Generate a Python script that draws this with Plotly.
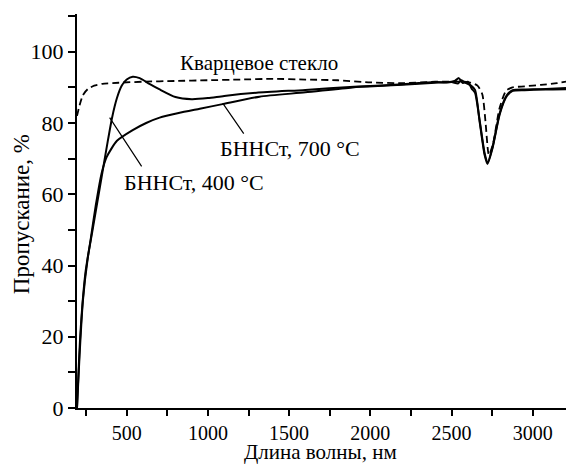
import plotly.graph_objects as go

# Data
wl_400 = [194, 210, 230, 260, 290, 320, 350, 380, 410, 440, 470, 500, 537, 580, 640, 700, 800, 900,
          1000, 1100, 1300, 1600, 1900, 2100, 2300, 2400, 2470, 2520, 2545, 2570, 2600, 2625, 2645,
          2673, 2704, 2722, 2753, 2797, 2840, 2876, 2950, 3050, 3205]
t_400 = [0, 15, 30, 42, 50, 58, 66, 74, 81.5, 87, 90.5, 92.2, 93, 92.6, 91, 89.5, 87.3, 86.7,
         87, 87.6, 88.5, 89.3, 90.2, 90.6, 91.2, 91.5, 91.4, 91.8, 92.6, 91.2, 91.6, 89.6, 88.5,
         80.8, 71.5, 68.8, 73.3, 82.8, 87.8, 89.2, 89.4, 89.5, 89.8]

wl_700 = [194, 215, 246, 277, 310, 346, 377, 440, 537, 620, 703, 820, 950, 1090, 1318, 1600, 1890,
          2100, 2300, 2400, 2500, 2540, 2560, 2590, 2620, 2645, 2673, 2704, 2722, 2753, 2797, 2840,
          2876, 2950, 3050, 3205]
t_700 = [0, 21, 38, 47, 57, 66, 70.5, 75, 78, 80, 81.5, 82.8, 84, 85.3, 87.4, 88.6, 90,
         90.5, 91, 91.3, 91.5, 91.1, 92, 91.2, 90.5, 89.3, 80.5, 71, 68.5, 73, 82.5, 87.5,
         89, 89.2, 89.4, 89.5]

wl_quartz = [194, 210, 230, 260, 300, 350, 450, 600, 800, 1000, 1200, 1400, 1600, 1800, 2000, 2200,
             2400, 2500, 2600, 2660, 2690, 2710, 2730, 2755, 2795, 2835, 2875, 2950, 3050, 3150, 3205]
t_quartz = [82, 85, 87.8, 89.5, 90.5, 91, 91.3, 91.6, 91.8, 92, 92.2, 92.4, 92.2, 92, 91.4, 91.2,
            91.6, 91.6, 91.5, 90.5, 88, 80, 71, 74, 84, 89, 90, 90.3, 90.7, 91.2, 91.6]

x_ticks = [500, 1000, 1500, 2000, 2500, 3000]
y_ticks = [0, 20, 40, 60, 80, 100]
x_title = "Длина волны, нм"
y_title = "Пропускание, %"

FONT = "Liberation Serif"
LBL = 22

fig = go.Figure()
fig.add_trace(go.Scatter(x=wl_quartz, y=t_quartz, mode="lines",
                         line=dict(color="black", width=1.8, dash="7px,4px", shape="spline", smoothing=0.6)))
fig.add_trace(go.Scatter(x=wl_700, y=t_700, mode="lines",
                         line=dict(color="black", width=2, shape="spline", smoothing=0.6)))
fig.add_trace(go.Scatter(x=wl_400, y=t_400, mode="lines",
                         line=dict(color="black", width=2, shape="spline", smoothing=0.6)))

# labels
fig.add_annotation(x=814, y=96.8, text="Кварцевое стекло", showarrow=False, xanchor="left",
                   yanchor="middle", font=dict(family=FONT, size=21, color="black"))
fig.add_annotation(x=469, y=63.2, text="БННСт, 400 °C", showarrow=False, xanchor="left",
                   yanchor="middle", font=dict(family=FONT, size=LBL, color="black"))
fig.add_annotation(x=1060, y=72.8, text="БННСт, 700 °C", showarrow=False, xanchor="left",
                   yanchor="middle", font=dict(family=FONT, size=LBL, color="black"))
# leader lines
fig.add_annotation(x=395, y=81.5, ax=598, ay=67.4, axref="x", ayref="y", xref="x", yref="y",
                   text="", showarrow=True, arrowhead=0, arrowwidth=1.2, arrowcolor="black")
fig.add_annotation(x=1091, y=85.6, ax=1227, ay=76.6, axref="x", ayref="y", xref="x", yref="y",
                   text="", showarrow=True, arrowhead=0, arrowwidth=1.2, arrowcolor="black")

# axis titles
fig.add_annotation(xref="paper", yref="paper", x=0.497, y=-0.1445, text=x_title, showarrow=False,
                   xanchor="center", yanchor="bottom", borderpad=0,
                   font=dict(family=FONT, size=21, color="black"))
fig.add_annotation(xref="paper", yref="paper", x=-0.1145, y=0.492, text=y_title, showarrow=False,
                   textangle=-90, xanchor="center", yanchor="middle",
                   font=dict(family=FONT, size=23, color="black"))

fig.update_layout(
    width=566, height=466, showlegend=False,
    margin=dict(l=77, r=0, t=14, b=58),
    paper_bgcolor="white", plot_bgcolor="white",
    font=dict(family=FONT, size=22, color="black"),
)
fig.update_xaxes(range=[194, 3205], tickvals=x_ticks, ticks="outside", ticklen=6, tickwidth=1.5,
                 showline=True, linecolor="black", linewidth=2, showgrid=False, zeroline=False,
                 minor=dict(tick0=250, dtick=500, ticks="outside", ticklen=6, tickwidth=1.5, tickcolor="black"),
                 tickfont=dict(family=FONT, size=20), tickcolor="black")
fig.update_yaxes(range=[0, 110.6], tickvals=y_ticks, ticks="outside", ticklen=7, tickwidth=1.5,
                 showline=True, linecolor="black", linewidth=2, showgrid=False, zeroline=False,
                 minor=dict(tick0=10, dtick=20, ticks="outside", ticklen=7, tickwidth=1.5, tickcolor="black"),
                 tickfont=dict(family=FONT, size=22), tickcolor="black")

fig.write_html("out.html")
